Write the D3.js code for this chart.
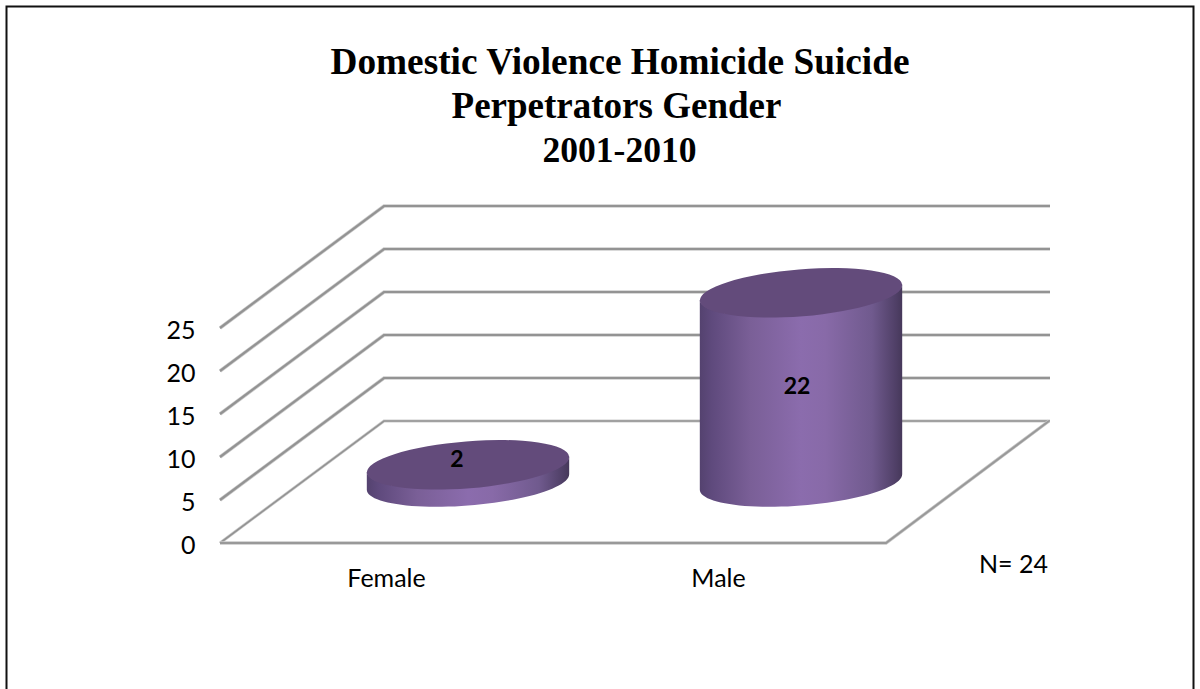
<!DOCTYPE html>
<html><head><meta charset="utf-8">
<script src="https://cdn.jsdelivr.net/npm/d3@7/dist/d3.min.js"></script>
<style>html,body{margin:0;padding:0;background:#fff;overflow:hidden}svg{display:block}</style>
</head><body><svg id="c" width="1200" height="689"></svg>
<script>
const titleLines = ["Domestic Violence Homicide Suicide","Perpetrators Gender","2001-2010"];
const categories = ["Female","Male"];
const values = [2,22];
const yTicks = [0,5,10,15,20,25];
const note = "N= 24";

const svg = d3.select("#c");
const W=1200,H=689;
svg.append("rect").attr("width",W).attr("height",H).attr("fill","#fff");
svg.append("path").attr("d","M6.5,689V6.5H1193.5V689").attr("fill","none").attr("stroke","#111").attr("stroke-width",2);

const titleX=[620,616.5,619.5], titleSize=[37.3,37,35.6];
const title = svg.append("text").attr("text-anchor","middle")
  .attr("font-family","'Liberation Serif',serif").attr("font-weight","bold").attr("fill","#000");
titleLines.forEach((t,i)=>title.append("tspan").attr("x",titleX[i]).attr("y",74+i*44).attr("font-size",titleSize[i]).text(t));

// 3D frame
const yFront = d3.scaleLinear().domain([0,25]).range([543,328]);
const depth = {dx:164, dy:-122};
const x0=220, xFrontEnd=886;
const yBack = v=>yFront(v)+depth.dy;
const xBack = x=>x+depth.dx;
const band = d3.scaleBand().domain(categories).range([x0,xFrontEnd]).padding(0);

const grid = svg.append("g").attr("fill","none").attr("stroke-linejoin","miter");
function wall(sel,d,w,c){ sel.append("path").attr("d",d).attr("stroke",c).attr("stroke-width",w); }
yTicks.forEach(v=>{
  const d=`M${x0},${yFront(v)}L${xBack(x0)},${yBack(v)}L${xBack(xFrontEnd)},${yBack(v)}`;
  wall(grid,d,v===0?3:3.6,"#cdcdcd");
  wall(grid,d,v===0?1.6:2.2,"#939393");
});
// floor edge
const fd=`M${x0},${yFront(0)}L${xFrontEnd},${yFront(0)}L${xBack(xFrontEnd)-1},${yBack(0)}`;
wall(grid,fd,3.4,"#c8c8c8");
wall(grid,fd,2,"#999999");

// axis
const axis = d3.axisLeft(yFront).tickValues(yTicks).tickSize(0).tickPadding(0);
const ag = svg.append("g").attr("transform","translate(195.5,2)").call(axis);
ag.select(".domain").remove();
ag.selectAll("text").attr("font-family","Lato,'Open Sans',sans-serif").attr("font-size",25).attr("fill","#000");

// cylinders
const defs = svg.append("defs");
const grad = defs.append("linearGradient").attr("id","cyl").attr("x1",0).attr("x2",1).attr("y1",0).attr("y2",0);
[[0,"#54426f"],[0.06,"#5f4a7d"],[0.25,"#7a5f97"],[0.5,"#8b6cad"],[0.62,"#886aa8"],[0.85,"#705a8e"],[0.97,"#4f3f66"],[1,"#46385a"]]
  .forEach(s=>grad.append("stop").attr("offset",s[0]).attr("stop-color",s[1]));

const a=101.5,b=23.5,theta=-4.6*Math.PI/180;
const baseY=yBack(0)+61, cx=d=>band(d)+band.bandwidth()/2+depth.dx/2-0.5;
const yPix = v=>baseY-(yFront(0)-yFront(v));
const ell=(c,y,t)=>[c+a*Math.cos(t)*Math.cos(theta)-b*Math.sin(t)*Math.sin(theta),
                   y+a*Math.cos(t)*Math.sin(theta)+b*Math.sin(t)*Math.cos(theta)];
const tR=Math.atan2(-b*Math.sin(theta),a*Math.cos(theta));
const tL=tR+Math.PI;
function body(c,y1,y2){
  const pts=[]; for(let i=0;i<=48;i++){pts.push(ell(c,y2,tR+(tL-tR)*i/48));}
  for(let i=48;i>=0;i--){pts.push(ell(c,y1,tR+(tL-tR)*i/48));}
  return d3.line()(pts)+"Z";
}
categories.forEach((cat,i)=>{
  const c=cx(cat), v=values[i], yt=yPix(v);
  svg.append("path").attr("d",body(c,yt-1,baseY)).attr("fill","url(#cyl)");
  svg.append("ellipse").attr("cx",0).attr("cy",0).attr("rx",a).attr("ry",b)
    .attr("transform",`translate(${c},${yt}) rotate(${theta*180/Math.PI})`).attr("fill","#634b7b");
});

// labels
const labelFont="Lato,'Open Sans',sans-serif";
categories.forEach((cat,i)=>{
  svg.append("text").attr("x",band(cat)+band.bandwidth()/2-(i?1:0)).attr("y",587).attr("text-anchor","middle")
    .attr("font-family",labelFont).attr("font-size",25).attr("fill","#000").text(cat);
  svg.append("text").attr("x",cx(cat)-(i?4:11)).attr("y",i?yPix(values[i])+101:yPix(values[i])+2)
    .attr("text-anchor","middle").attr("font-family",labelFont).attr("font-weight","bold").attr("font-size",23).attr("fill","#000").text(values[i]);
});
svg.append("text").attr("x",1048).attr("y",573).attr("text-anchor","end").attr("font-family",labelFont).attr("font-size",25).attr("fill","#000").text(note);
</script></body></html>
